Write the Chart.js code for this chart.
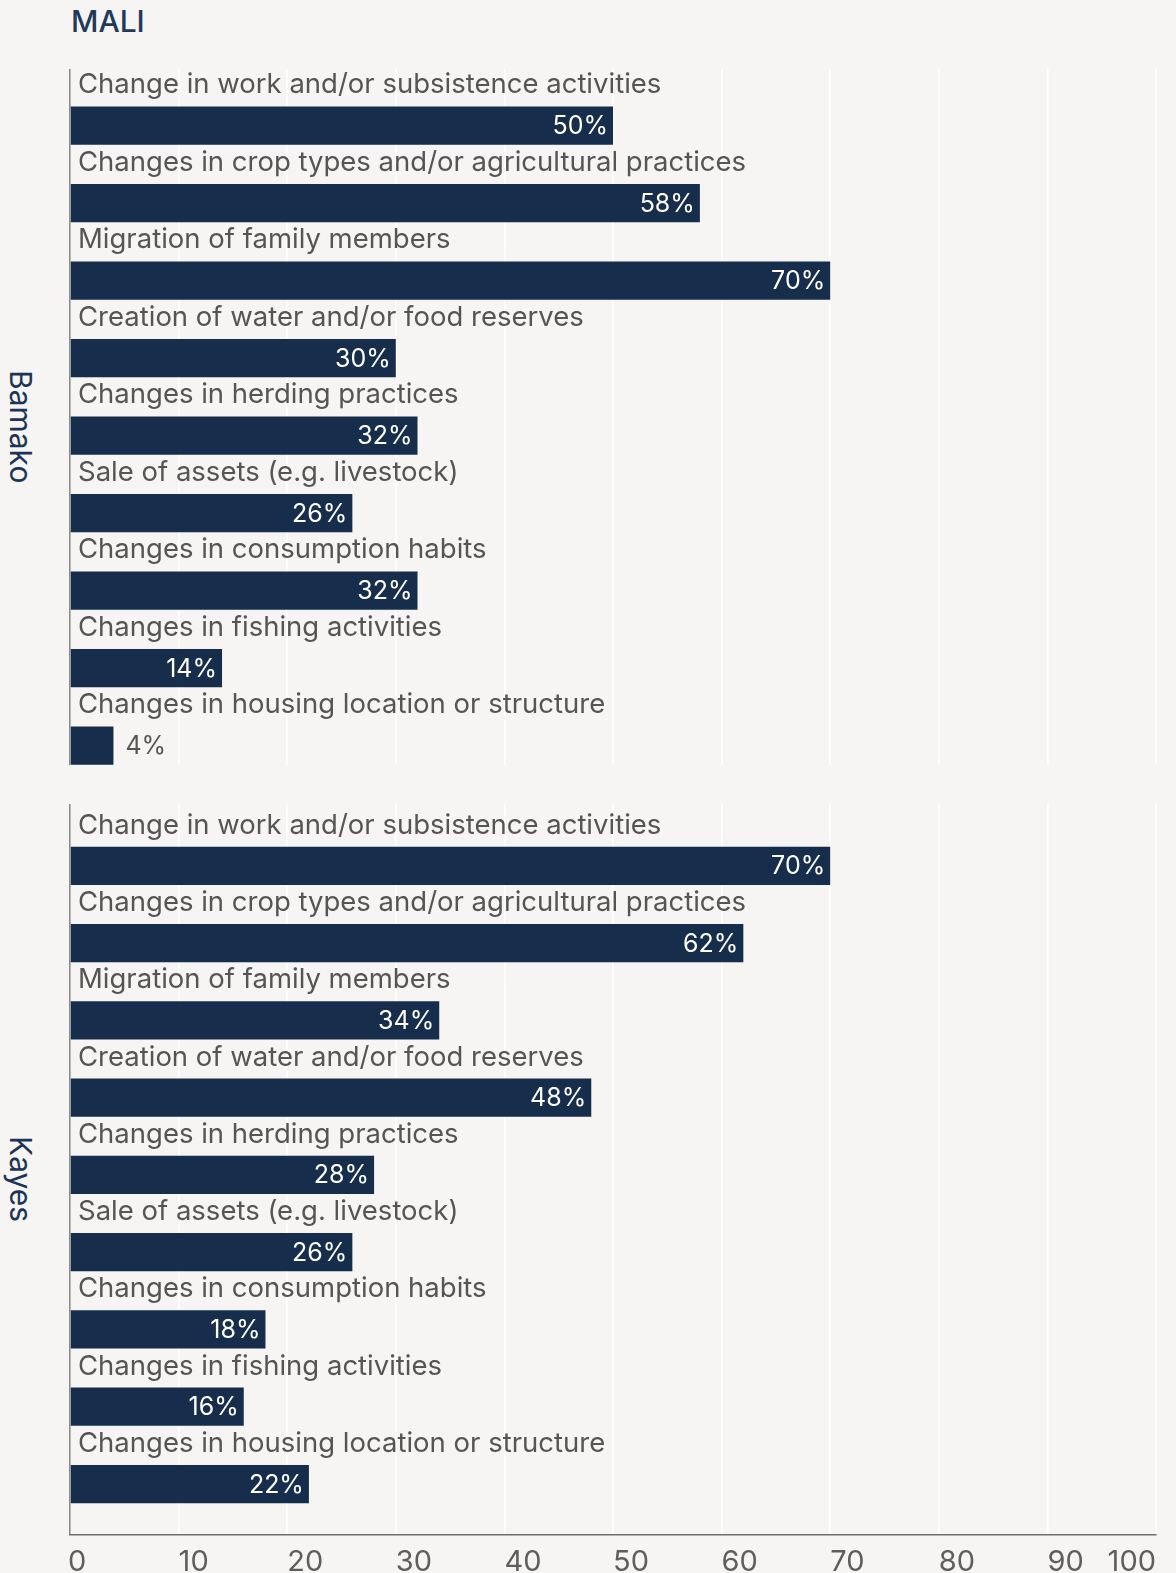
<!DOCTYPE html>
<html>
<head>
<meta charset="utf-8">
<script src="https://cdn.jsdelivr.net/npm/chart.js@4"></script>
<style>
  body { margin: 0; background: #f6f5f3; font-family: Inter, "Liberation Sans", Arial, sans-serif; }
  #page { position: relative; width: 1176px; height: 1573px; overflow: hidden; }
  canvas { position: absolute; left: 0; }
  .title { position: absolute; left: 71px; top: 6px; font-size: 30px; line-height: 30px; font-weight: 500; color: #22395c; }
  .side { position: absolute; left: 2px; writing-mode: vertical-rl; font-size: 30px; line-height: 38px; color: #1c3557; }
</style>
</head>
<body>
<div id="page">
  <div class="title">MALI</div>
  <div class="side" style="top:370px">Bamako</div>
  <div class="side" style="top:1136px">Kayes</div>
  <canvas id="bamakoChart" width="1176" height="696" style="top:69px"></canvas>
  <canvas id="kayesChart" width="1176" height="769" style="top:804px"></canvas>
</div>
<script>
// === DATA ===
const categories = [
    'Change in work and/or subsistence activities',
    'Changes in crop types and/or agricultural practices',
    'Migration of family members',
    'Creation of water and/or food reserves',
    'Changes in herding practices',
    'Sale of assets (e.g. livestock)',
    'Changes in consumption habits',
    'Changes in fishing activities',
    'Changes in housing location or structure'
];
const bamakoValues = [50, 58, 70, 30, 32, 26, 32, 14, 4];
const kayesValues = [70, 62, 34, 48, 28, 26, 18, 16, 22];
const xTicks = [0, 10, 20, 30, 40, 50, 60, 70, 80, 90, 100];

const BAR = '#162d4c';
const GREY_TEXT = '#555555';
const FONT = 'Inter, "Liberation Sans", Arial, sans-serif';

// category label above each bar + value label at the bar end
const barLabels = {
    id: 'barLabels',
    afterDatasetsDraw(chart) {
        const ctx = chart.ctx;
        const meta = chart.getDatasetMeta(0);
        const area = chart.chartArea;
        ctx.save();
        meta.data.forEach((bar, i) => {
            const top = bar.y - bar.height / 2;
            ctx.font = '27.5px ' + FONT;
            ctx.fillStyle = GREY_TEXT;
            ctx.textAlign = 'left';
            ctx.textBaseline = 'alphabetic';
            ctx.fillText(categories[i], area.left + 8, top - 13);

            const v = chart.data.datasets[0].data[i].x;
            ctx.font = '25px ' + FONT;
            ctx.textBaseline = 'middle';
            if (bar.x - bar.base > 70) {
                ctx.fillStyle = '#ffffff';
                ctx.textAlign = 'right';
                ctx.fillText(v + '%', bar.x - 5, bar.y + 1);
            } else {
                ctx.fillStyle = GREY_TEXT;
                ctx.textAlign = 'left';
                ctx.fillText(v + '%', bar.x + 12, bar.y + 1);
            }
        });
        ctx.restore();
    }
};

// x tick labels: left aligned on the gridline, last one right aligned
const tickLabels = {
    id: 'tickLabels',
    afterDraw(chart) {
        const ctx = chart.ctx;
        const xs = chart.scales.x;
        ctx.save();
        ctx.font = '29px ' + FONT;
        ctx.fillStyle = '#5e5e5e';
        ctx.textBaseline = 'alphabetic';
        xTicks.forEach((t, i) => {
            ctx.textAlign = i === xTicks.length - 1 ? 'right' : 'left';
            ctx.fillText(String(t), xs.getPixelForValue(t) - (i === 0 ? 2 : 0), chart.height - 2);
        });
        ctx.restore();
    }
};

function renderPanel(id, values, yMin, yMax, bottomAxis) {
    const ctx = document.getElementById(id).getContext('2d');
    return new Chart(ctx, {
        type: 'bar',
        data: {
            datasets: [{
                data: values.map((v, i) => ({ x: v, y: i })),
                backgroundColor: BAR,
                barPercentage: 0.495,
                categoryPercentage: 1
            }]
        },
        options: {
            indexAxis: 'y', responsive: false, animation: false, devicePixelRatio: 1,
            layout: { padding: { left: 70, right: 20, top: 0, bottom: bottomAxis ? 38 : 0 } },
            plugins: { legend: { display: false }, tooltip: { enabled: false } },
            scales: {
                x: {
                    type: 'linear', min: 0, max: 100,
                    afterFit: s => { s.height = 0; },
                    ticks: { display: false, stepSize: 10 },
                    grid: { color: c => c.tick && c.tick.value === 0 ? '#8c8c8c' : '#ffffff', lineWidth: 1.6, drawTicks: false },
                    border: { display: bottomAxis, color: '#6e6e6e', width: 1.6 }
                },
                y: {
                    type: 'linear', reverse: true, min: yMin, max: yMax, offset: false, display: false,
                    afterBuildTicks: s => { s.ticks = values.map((v, i) => ({ value: i })); }
                }
            }
        },
        plugins: bottomAxis ? [barLabels, tickLabels] : [barLabels]
    });
}

renderPanel('bamakoChart', bamakoValues, -0.73, 8.25, false);
renderPanel('kayesChart', kayesValues, -0.80, 8.66, true);
</script>
</body>
</html>
